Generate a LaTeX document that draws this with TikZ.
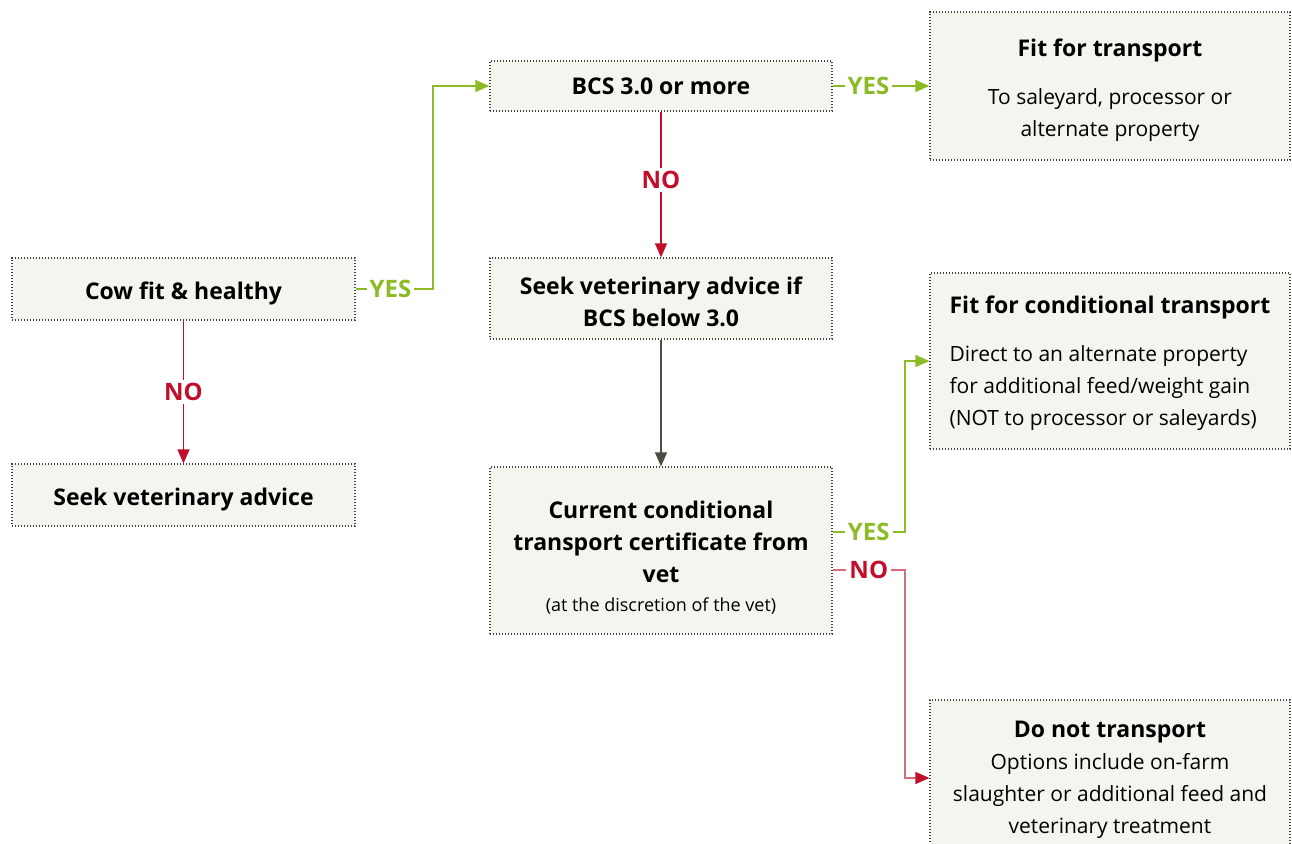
\documentclass[tikz,border=0pt]{standalone}
\usepackage{fontspec}
\setmainfont{Open Sans}
\usepackage{tikz}
\definecolor{BoxFill}{HTML}{F3F6EE}
\definecolor{BoxLine}{HTML}{404040}
\definecolor{YesGreen}{HTML}{8CBB26}
\definecolor{NoRed}{HTML}{C20E2B}
\definecolor{NoPink}{HTML}{D86A7A}
\definecolor{ArrowGray}{HTML}{4A4D42}
\newcommand{\Head}[1]{{\fontsize{11.5}{16}\selectfont\bfseries #1}}
\newcommand{\Small}[1]{{\fontsize{9}{16}\selectfont #1}}
\newcommand{\Push}[1]{\rule{0pt}{#1}}
\usetikzlibrary{
	positioning,
	calc,
	arrows.meta
}

\begin{document}
\begin{tikzpicture}[
		x=0.5pt, y=-0.5pt,
		framed/.style={draw=BoxLine, fill=BoxFill, line width=0.6pt, dash pattern=on 0.6pt off 0.9pt, inner xsep=9pt, font=\fontsize{10.5}{16}\selectfont, align=center, minimum width=171.5pt},
		wide/.style={framed, minimum width=180pt},
		lower/.style={text depth=#1},
		answer/.style={fill=white, inner sep=1.5pt, font=\fontsize{12}{12}\selectfont\bfseries},
		yesline/.style={YesGreen, line width=0.6pt, -{Triangle[length=7pt, width=6pt]}},
		noline/.style={NoRed, line width=0.6pt, -{Triangle[length=7pt, width=6pt]}},
		paleno/.style={NoPink, line width=0.6pt, -{Triangle[length=7pt, width=6pt, color=NoRed]}},
		plain/.style={ArrowGray, line width=0.6pt, -{Triangle[length=7pt, width=6pt]}}
	]
		\useasboundingbox (0,0) rectangle (1292,843);

		\node[framed, lower=0pt, minimum height=31pt] (cowfit) at (183.5,289) {\Push{10.7pt}\Head{Cow fit \& healthy}};
		\node[framed, lower=0pt, minimum height=31pt] (seekvet) at (183.5,495) {\Push{10.7pt}\Head{Seek veterinary advice}};
		\node[framed, minimum width=171pt, minimum height=25pt] (bcs) at (661,86) {\Head{BCS 3.0 or more}};
		\node[framed, lower=0pt, minimum width=171pt, minimum height=40.5pt] (seekif) at (661,298.5) {\Push{11.7pt}\Head{Seek veterinary advice if}\\ \Head{BCS below 3.0}};
		\node[framed, lower=0pt, minimum width=171pt, minimum height=83.5pt] (cert) at (661,550.5) {\Push{14.2pt}\Head{Current conditional}\\ \Head{transport certificate from}\\ \Head{vet}\\[-1.5pt] \Small{(at the discretion of the vet)}};

		\node[wide, lower=0pt, minimum height=74pt] (fit) at (1110,86) {\Push{10.7pt}\Head{Fit for transport}\\[8pt] To saleyard, processor or\\ alternate property};
		\node[wide, lower=0pt, minimum height=88pt, align=left] (fitcond) at (1110,361) {\Head{Fit for conditional transport}\\[8pt] Direct to an alternate property\\ for additional feed/weight gain\\ (NOT to processor or saleyards)};
		\node[wide, lower=0.5pt, minimum height=78pt] (dont) at (1110,778) {\Head{Do not transport}\\ Options include on-farm\\ slaughter or additional feed and\\ veterinary treatment};

		% yes / no branches
		\coordinate (cowbend) at (433,289);
		\draw[yesline] (cowfit.east) -- node[answer, text=YesGreen, pos=0.45] {YES} (cowbend) |- (bcs.west);
		\draw[noline] (cowfit.south) -- node[answer, text=NoRed] {NO} (seekvet.north);

		\draw[yesline] (bcs.east) -- node[answer, text=YesGreen, pos=0.37] {YES} (fit.west);
		\draw[noline] (bcs.south) -- node[answer, text=NoRed, pos=0.47] {NO} (seekif.north);

		\draw[plain] (seekif.south) -- (cert.north);

		\coordinate (certyes) at ([yshift=9.25pt]cert.east);
		\coordinate (yesbend) at (905,532);
		\draw[yesline] (certyes) -- node[answer, text=YesGreen] {YES} (yesbend) |- (fitcond.west);

		\coordinate (certno) at ([yshift=-9.75pt]cert.east);
		\coordinate (nobend) at (905,570);
		\draw[paleno] (certno) -- node[answer, text=NoRed] {NO} (nobend) |- (dont.west);

	\end{tikzpicture}
\end{document}
